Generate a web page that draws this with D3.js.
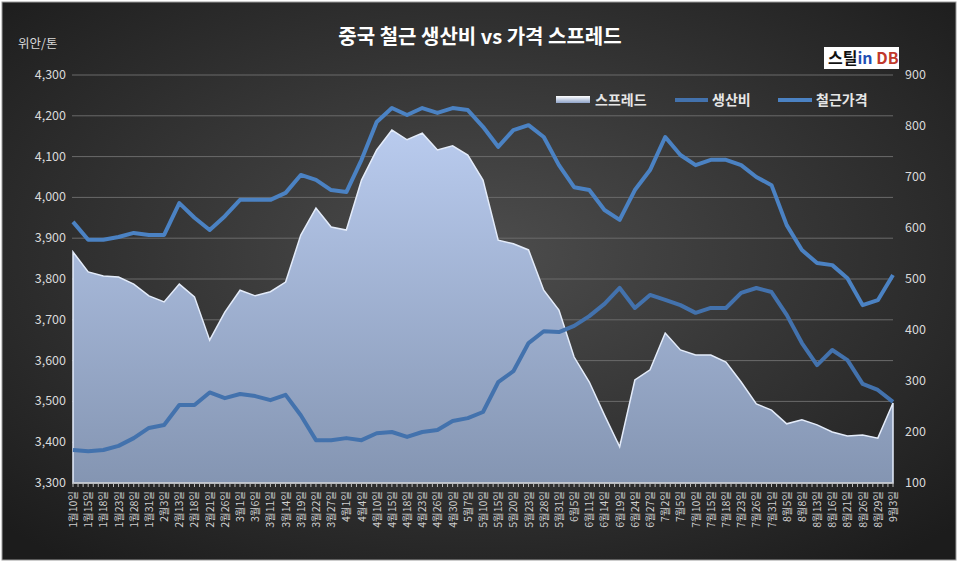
<!DOCTYPE html>
<html><head><meta charset="utf-8">
<script src="https://cdn.jsdelivr.net/npm/d3@7.9.0/dist/d3.min.js"></script>
<style>
body{margin:0;background:#fff;}
svg{display:block;font-family:"Noto Sans CJK KR","Noto Sans",sans-serif;}
</style></head>
<body><svg width="960" height="566"></svg>
<script>
const dates = ["1월10일","1월15일","1월18일","1월23일","1월28일","1월31일","2월3일","2월13일","2월18일","2월21일","2월26일",
  "3월1일","3월6일","3월11일","3월14일","3월19일","3월22일","3월27일","4월1일","4월4일","4월10일","4월15일","4월18일",
  "4월23일","4월26일","4월30일","5월7일","5월10일","5월15일","5월20일","5월23일","5월28일","5월31일","6월5일","6월11일",
  "6월14일","6월19일","6월24일","6월27일","7월2일","7월5일","7월10일","7월15일","7월18일","7월23일","7월26일","7월31일",
  "8월5일","8월8일","8월13일","8월16일","8월21일","8월26일","8월29일","9월3일"];
const price = [3940,3896,3896,3903,3913,3908,3908,3986,3950,3920,3954,3994,3994,3994,4011,4055,4043,4018,4013,4092,4185,
  4219,4202,4219,4207,4219,4214,4173,4124,4165,4177,4148,4079,4025,4018,3969,3945,4018,4067,4148,4104,4079,4092,4092,
  4079,4050,4030,3932,3871,3839,3834,3802,3736,3748,3810];
const cost = [3381,3378,3381,3391,3410,3435,3442,3491,3491,3522,3508,3518,3513,3503,3516,3466,3405,3405,3410,3405,3422,
  3425,3413,3425,3430,3452,3459,3474,3547,3574,3643,3672,3670,3685,3709,3739,3778,3729,3761,3749,3736,3717,3729,3729,
  3766,3778,3768,3712,3643,3589,3626,3601,3543,3528,3499];
const spread = [553,514,506,504,490,467,455,490,465,380,435,478,467,475,494,586,639,602,596,694,753,792,773,786,753,761,
  743,694,576,569,557,478,439,347,298,233,171,302,322,394,361,351,351,337,298,255,243,216,224,214,200,192,194,188,257];
const leftTicks = [3300,3400,3500,3600,3700,3800,3900,4000,4100,4200,4300];
const rightTicks = [100,200,300,400,500,600,700,800,900];

const svg = d3.select("svg");
const W = 960, H = 566;
const plot = {l: 72, r: 893, t: 75, b: 483};

const defs = svg.append("defs");
const bg = defs.append("radialGradient").attr("id","bg").attr("cx","50%").attr("cy","45%").attr("r","70%");
bg.append("stop").attr("offset","0%").attr("stop-color","#4d4d4d");
bg.append("stop").attr("offset","100%").attr("stop-color","#1c1c1c");
const ag = defs.append("linearGradient").attr("id","area").attr("x1",0).attr("y1",0).attr("x2",0).attr("y2",1);
ag.append("stop").attr("offset","0%").attr("stop-color","#b9cbee");
ag.append("stop").attr("offset","100%").attr("stop-color","#8495b2");
const lg = defs.append("linearGradient").attr("id","sw").attr("x1",0).attr("y1",0).attr("x2",0).attr("y2",1);
lg.append("stop").attr("offset","0%").attr("stop-color","#ffffff");
lg.append("stop").attr("offset","100%").attr("stop-color","#8fa3c8");

svg.append("rect").attr("width",W).attr("height",H).attr("fill","#fff");
svg.append("rect").attr("x",2).attr("y",2).attr("width",W-6).attr("height",H-8)
  .attr("fill","url(#bg)").attr("stroke","#999").attr("stroke-width",1);

const x = d3.scalePoint().domain(dates).range([plot.l + 1, plot.r]);
const yL = d3.scaleLinear().domain([3300,4300]).range([plot.b, plot.t]);
const yR = d3.scaleLinear().domain([100,900]).range([plot.b, plot.t]);

// grid
svg.append("g").selectAll("line").data(leftTicks.slice(1)).join("line")
  .attr("x1",plot.l).attr("x2",plot.r).attr("y1",d=>yL(d)).attr("y2",d=>yL(d))
  .attr("stroke","#6a6a6a").attr("stroke-width",1);

// spread area
svg.append("path").datum(spread)
  .attr("d", d3.area().x((d,i)=>x(dates[i])).y0(plot.b).y1(d=>yR(d)))
  .attr("fill","url(#area)").attr("stroke","#e4ecfa").attr("stroke-width",1.5);

const line = (arr) => d3.line().x((d,i)=>x(dates[i])).y(d=>yL(d))(arr);
svg.append("path").attr("d",line(cost)).attr("fill","none").attr("stroke","#4372ad").attr("stroke-width",4).attr("stroke-linejoin","round");
svg.append("path").attr("d",line(price)).attr("fill","none").attr("stroke","#4b82c3").attr("stroke-width",4).attr("stroke-linejoin","round");

// axes
const ax = svg.append("g").attr("fill","#d9d9d9").attr("font-size",12.5);
ax.selectAll(".yl").data(leftTicks).join("text").attr("x",66).attr("y",d=>yL(d)+4)
  .attr("text-anchor","end").text(d3.format(","));
ax.selectAll(".yr").data(rightTicks).join("text").attr("x",905).attr("y",d=>yR(d)+4)
  .text(d=>d);
ax.append("text").attr("x",18).attr("y",48).text("위안/톤");

// x axis
svg.append("line").attr("x1",plot.l).attr("x2",plot.r).attr("y1",plot.b).attr("y2",plot.b).attr("stroke","#bbb");
const minor = d3.range(0, (dates.length-1)*3+1).map(k => x(dates[0]) + k*(x.step()/3));
svg.append("g").selectAll("line").data(minor).join("line")
  .attr("x1",d=>d).attr("x2",d=>d).attr("y1",plot.b).attr("y2",plot.b+4).attr("stroke","#bbb");
svg.append("g").selectAll("text").data(dates).join("text")
  .attr("transform",d=>`translate(${x(d)+4},${plot.b+8}) rotate(-90)`)
  .attr("text-anchor","end").attr("fill","#cfcfcf").attr("font-size",10.5).text(d=>d);

// title
svg.append("text").attr("x",480).attr("y",44).attr("text-anchor","middle")
  .attr("fill","#fff").attr("font-size",20).attr("font-weight","bold").text("중국 철근 생산비 vs 가격 스프레드");

// logo
svg.append("rect").attr("x",824).attr("y",47).attr("width",75).attr("height",22).attr("fill","#fff");
const logo = svg.append("text").attr("x",828).attr("y",64).attr("font-size",16).attr("font-weight","bold");
logo.append("tspan").attr("fill","#111").text("스틸");
logo.append("tspan").attr("fill","#1f4fb4").text("in ");
logo.append("tspan").attr("fill","#c0392b").text("DB");

// legend
const leg = svg.append("g").attr("font-size",14).attr("fill","#e6e6e6").attr("font-weight","bold");
leg.append("rect").attr("x",556).attr("y",96).attr("width",34).attr("height",7).attr("fill","url(#sw)");
leg.append("text").attr("x",595).attr("y",105).text("스프레드");
leg.append("line").attr("x1",675).attr("x2",708).attr("y1",100).attr("y2",100).attr("stroke","#4372ad").attr("stroke-width",4);
leg.append("text").attr("x",712).attr("y",105).text("생산비");
leg.append("line").attr("x1",778).attr("x2",812).attr("y1",100).attr("y2",100).attr("stroke","#4b82c3").attr("stroke-width",4);
leg.append("text").attr("x",816).attr("y",105).text("철근가격");
</script></body></html>
